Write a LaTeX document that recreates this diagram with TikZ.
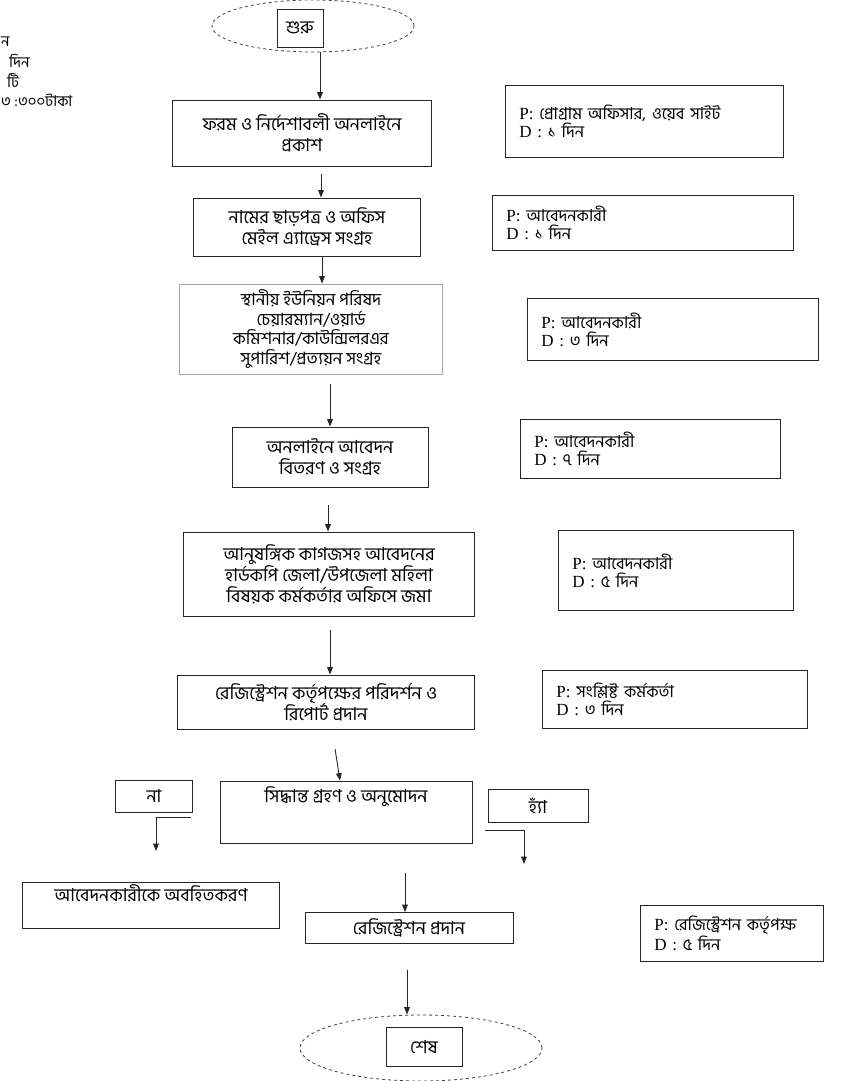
\documentclass[tikz,border=0pt]{standalone}
\usepackage{fontspec}
\setmainfont{Liberation Serif}
\newfontfamily\bn[Script=Bengali]{Hind Siliguri}
\usetikzlibrary{positioning, arrows.meta, shapes.geometric}

\begin{document}
\begin{tikzpicture}[
    x=1pt, y=-1pt, % coordinates as on the scanned page, y going down
    % Styles for the nodes and lines
    block/.style={rectangle, draw=black!85, line width=0.9pt, align=center, font=\bn\fontsize{18}{21}\selectfont, inner sep=2pt},
    faintblock/.style={block, draw=black!35}, % the pale box of the scan
    pdbox/.style={rectangle, draw=black!85, line width=0.9pt, align=left, anchor=north west, inner xsep=14pt, font=\fontsize{17}{18}\selectfont},
    cuttext/.style={anchor=west, font=\bn\fontsize{15}{17}\selectfont, inner sep=0pt},
    terminal/.style={ellipse, draw=black!75, dashed, line width=0.8pt, inner sep=0pt},
    line/.style={
        draw=black!85, line width=0.9pt,
        -{Triangle[length=2.6mm,width=2mm]}
    }
]

% Page size of the scan
\useasboundingbox (0,0) rectangle (846,1081);

% A box with the person (P) and the duration (D) of one step
\newcommand{\pdnode}[6]{
    \pgfmathsetmacro{\pdwidth}{#3-28} % text width inside the box
    \node [pdbox, text width=\pdwidth pt, minimum height=#4] (#1) at (#2) {P: {\bn\fontsize{16.5}{17}\selectfont #5}\\D : {\bn\fontsize{16.5}{17}\selectfont #6}};
}

% Remains of the text at the left edge
\node [cuttext] (cut1) at (1,42) {ন};
\node [cuttext] (cut2) at (9,61) {দিন};
\node [cuttext] (cut3) at (7,81) {টি};
\node [cuttext] (cut4) at (1,100) {৩ :৩০০টাকা};

% Start
\node [terminal, minimum width=202, minimum height=52] (start) at (313,26) {};
\node [block, minimum width=46, minimum height=38] (startbox) at (300,28) {শুরু};

% Main steps
\node [block, minimum width=259, minimum height=66] (form) at (302,133) {ফরম ও নির্দেশাবলী অনলাইনে\\প্রকাশ};
\node [block, minimum width=227, minimum height=58] (clear) at (307,227) {নামের ছাড়পত্র ও অফিস\\মেইল এ্যাড্রেস সংগ্রহ};
\node [faintblock, minimum width=263, minimum height=90, font=\bn\fontsize{17}{19.5}\selectfont] (recom) at (311,329) {স্থানীয় ইউনিয়ন পরিষদ\\চেয়ারম্যান/ওয়ার্ড\\কমিশনার/কাউন্সিলরএর\\সুপারিশ/প্রত্যয়ন সংগ্রহ};
\node [block, minimum width=196, minimum height=60] (apply) at (330,457) {অনলাইনে আবেদন\\বিতরণ ও সংগ্রহ};
\node [block, minimum width=291, minimum height=84] (submit) at (329,574) {আনুষঙ্গিক কাগজসহ আবেদনের\\হার্ডকপি জেলা/উপজেলা মহিলা\\বিষয়ক কর্মকর্তার অফিসে জমা};
\node [block, minimum width=297, minimum height=54] (inspect) at (326,702) {রেজিস্ট্রেশন কর্তৃপক্ষের পরিদর্শন ও\\রিপোর্ট প্রদান};
\node [block, minimum width=252, minimum height=62] (decide) at (346,812) {সিদ্ধান্ত গ্রহণ ও অনুমোদন\\[14pt]\mbox{}};

% The two answers
\node [block, minimum width=77, minimum height=32] (no) at (154,796) {না};
\node [block, minimum width=100, minimum height=33] (yes) at (538,806) {হ্যাঁ};
\node [block, minimum width=257, minimum height=46] (inform) at (151,905) {আবেদনকারীকে অবহিতকরণ\\[2pt]\mbox{}};
\node [block, minimum width=208, minimum height=31] (grant) at (409,928) {রেজিস্ট্রেশন প্রদান};

% End
\node [terminal, minimum width=242, minimum height=66] (finish) at (421,1048) {};
\node [block, minimum width=76, minimum height=39] (finishbox) at (424,1047) {শেষ};

% Person and duration of each step
\pdnode{pd1}{505,85}{278}{72}{প্রোগ্রাম অফিসার, ওয়েব সাইট}{১ দিন};
\pdnode{pd2}{492,195}{301}{55}{আবেদনকারী}{১ দিন};
\pdnode{pd3}{527,298}{291}{62}{আবেদনকারী}{৩ দিন};
\pdnode{pd4}{520,419}{260}{59}{আবেদনকারী}{৭ দিন};
\pdnode{pd5}{558,530}{235}{80}{আবেদনকারী}{৫ দিন};
\pdnode{pd6}{542,670}{265}{58}{সংশ্লিষ্ট কর্মকর্তা}{৩ দিন};
\pdnode{pd7}{640,905}{183}{56}{রেজিস্ট্রেশন কর্তৃপক্ষ}{৫ দিন};

% Ends of the two answer lines
\coordinate (noend) at (156,851);
\coordinate (yesend) at (524,864);

% Arrows
\path [line] ([xshift=7]start.south) -- ([xshift=7]start.south |- form.north);
\path [line, shorten <=8pt] ([xshift=14]clear.north |- form.south) -- ([xshift=14]clear.north);
\path [line] ([xshift=15]clear.south) -- ([xshift=15]clear.south |- recom.north);
\path [line, shorten <=10pt] ([xshift=19]recom.south) -- ([xshift=19]recom.south |- apply.north);
\path [line, shorten <=18pt] ([xshift=-2]apply.south) -- ([xshift=-2]apply.south |- submit.north);
\path [line, shorten <=14pt] ([xshift=1]submit.south) -- ([xshift=1]submit.south |- inspect.north);
\path [line, shorten <=20pt] ([xshift=6]inspect.south) -- ([xshift=-6]decide.north);
\path [line] ([xshift=-2,yshift=-5]no.south east) -| (noend);
\path [line] ([xshift=-3,yshift=-7]yes.south west) -| (yesend);
\path [line, shorten <=30pt] (decide.south -| grant.north) ++(-4,0) -- ([xshift=-4]grant.north);
\path [line, shorten <=26pt] ([xshift=-2]grant.south) -- ([xshift=-2]grant.south |- finish.north);

\end{tikzpicture}
\end{document}
